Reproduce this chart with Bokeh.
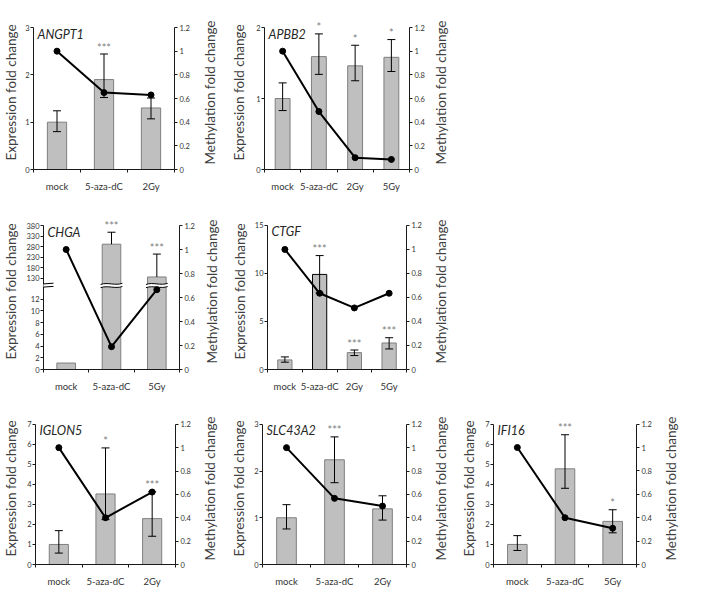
import math
from bokeh.plotting import figure
from bokeh.models import (Range1d, LinearAxis, FixedTicker, CustomJSTickFormatter,
                          Arrow, Spacer, ColumnDataSource, Label, LabelSet)
from bokeh.layouts import row, column
from bokeh.core.properties import value
from bokeh.embed import file_html
from bokeh.resources import INLINE

# ---------------- data ----------------
angpt1_groups = ["mock", "5-aza-dC", "2Gy"]
angpt1_expression = [1.00, 1.90, 1.30]
angpt1_err_upper = [1.24, 2.44, 1.51]
angpt1_err_lower = [0.80, 1.52, 1.07]
angpt1_methylation = [1.00, 0.65, 0.63]
angpt1_signif = ["", "***", ""]
angpt1_yticks = [0, 1, 2, 3]

apbb2_groups = ["mock", "5-aza-dC", "2Gy", "5Gy"]
apbb2_expression = [1.00, 1.59, 1.46, 1.58]
apbb2_err_upper = [1.22, 1.91, 1.75, 1.83]
apbb2_err_lower = [0.83, 1.34, 1.25, 1.38]
apbb2_methylation = [1.00, 0.49, 0.10, 0.085]
apbb2_signif = ["", "*", "*", "*"]
apbb2_yticks = [0, 1, 2]

chga_groups = ["mock", "5-aza-dC", "5Gy"]
chga_expression = [1.1, 291.0, 135.0]
chga_err_upper = [None, 348.0, 244.0]
chga_err_lower = [None, None, None]
chga_methylation = [1.00, 0.19, 0.665]
chga_signif = ["", "***", "***"]
chga_yticks = [0, 2, 4, 6, 8, 10, 12, 130, 180, 230, 280, 330, 380]

ctgf_groups = ["mock", "5-aza-dC", "2Gy", "5Gy"]
ctgf_expression = [1.00, 9.90, 1.76, 2.76]
ctgf_err_upper = [1.31, 11.86, 2.03, 3.31]
ctgf_err_lower = [0.76, 7.95, 1.45, 2.14]
ctgf_methylation = [1.00, 0.635, 0.513, 0.635]
ctgf_signif = ["", "***", "***", "***"]
ctgf_yticks = [0, 5, 10, 15]

iglon5_groups = ["mock", "5-aza-dC", "2Gy"]
iglon5_expression = [1.00, 3.52, 2.29]
iglon5_err_upper = [1.69, 5.82, 3.63]
iglon5_err_lower = [0.57, 2.24, 1.41]
iglon5_methylation = [1.00, 0.40, 0.62]
iglon5_signif = ["", "*", "***"]
iglon5_yticks = [0, 1, 2, 3, 4, 5, 6, 7]

slc43a2_groups = ["mock", "5-aza-dC", "2Gy"]
slc43a2_expression = [1.00, 2.24, 1.19]
slc43a2_err_upper = [1.28, 2.73, 1.47]
slc43a2_err_lower = [0.76, 1.75, 0.95]
slc43a2_methylation = [1.00, 0.566, 0.50]
slc43a2_signif = ["", "***", ""]
slc43a2_yticks = [0, 1, 2, 3]

ifi16_groups = ["mock", "5-aza-dC", "5Gy"]
ifi16_expression = [1.00, 4.77, 2.15]
ifi16_err_upper = [1.44, 6.47, 2.73]
ifi16_err_lower = [0.70, 3.80, 1.58]
ifi16_methylation = [1.00, 0.40, 0.31]
ifi16_signif = ["", "***", "*"]
ifi16_yticks = [0, 1, 2, 3, 4, 5, 6, 7]

methylation_ticks = [0, 0.2, 0.4, 0.6, 0.8, 1.0, 1.2]
left_title = "Expression fold change"
right_title = "Methylation fold change"

# ---------------- styles ----------------
FONT = "Lato"
BAR_FILL = "#BFBFBF"
BAR_EDGE = "#7F7F7F"
AXIS_COLOR = "#1a1a1a"
TICK_COLOR = "#333333"
TITLE_COLOR = "#404040"
STAR_COLOR = "#808080"
TITLE_SIZE = "13.5px"
YTICK_SIZE = "7.5px"
XTICK_SIZE = "9.5px"
BAR_WIDTH = 0.41
EXT = 12          # extra frame pixels above the top tick (room for stars / gene name)
RR = 20           # right border of a panel (right axis ticks + labels)
HALF_TITLE = 8.5  # half the height of a rotated axis title

# broken-axis scale for CHGA (lower segment linear 0..~14, upper segment 130..380 compressed)
CHGA_BREAK = 14.3
CHGA_U130 = 15.57
CHGA_K = 0.03577


def chga_scale(v):
    if v <= CHGA_BREAK:
        return v
    return CHGA_U130 + (v - 130.0) * CHGA_K


def style_axis(ax, tick_size):
    ax.axis_line_color = AXIS_COLOR
    ax.major_tick_line_color = AXIS_COLOR
    ax.minor_tick_line_color = AXIS_COLOR
    ax.major_label_text_font = FONT
    ax.major_label_text_font_size = tick_size
    ax.major_label_text_color = TICK_COLOR
    ax.axis_label_text_font = FONT
    ax.axis_label_text_font_size = TITLE_SIZE
    ax.axis_label_text_font_style = "normal"
    ax.axis_label_text_color = TITLE_COLOR


def make_panel(gene, groups, expr, hi, lo, meth, sig, yticks, col_w, row_h, bl, fw,
               axis_top, H, lstand, d_right, scale=None, edges=None, break_at=None):
    n = len(groups)
    f = scale if scale else (lambda v: v)
    xs = [i + 0.5 for i in range(n)]
    ymax = f(yticks[-1])
    grow = (H + EXT) / H
    main_w = bl + fw + RR
    bt = axis_top - EXT
    bb = row_h - axis_top - H
    p = figure(width=main_w, height=row_h, x_range=Range1d(0, n),
               y_range=Range1d(0, ymax * grow),
               x_axis_type=None, y_axis_type=None, output_backend="svg",
               toolbar_location=None, min_border_left=bl, min_border_right=RR,
               min_border_top=bt, min_border_bottom=bb)
    p.title.visible = False
    p.outline_line_color = None
    p.extra_y_ranges = {"meth": Range1d(0, 1.2 * grow)}

    # bottom (category) axis: labels at centres, tick marks at boundaries
    xa = LinearAxis(ticker=FixedTicker(ticks=xs, minor_ticks=list(range(n + 1))),
                    formatter=CustomJSTickFormatter(
                        args=dict(labels=groups),
                        code="const i = Math.round(tick - 0.5); return (i >= 0 && i < labels.length) ? labels[i] : '';"))
    style_axis(xa, XTICK_SIZE)
    xa.major_tick_out = 0
    xa.major_tick_in = 0
    xa.minor_tick_out = 3
    xa.minor_tick_in = 0
    xa.major_label_standoff = 8
    p.add_layout(xa, "below")

    # left axis
    tick_u = [f(t) for t in yticks]
    tick_l = [str(t) for t in yticks]
    ya = LinearAxis(ticker=FixedTicker(ticks=tick_u, minor_ticks=[]), bounds=(0, ymax),
                    formatter=CustomJSTickFormatter(
                        args=dict(u=tick_u, labs=tick_l),
                        code="for (let i = 0; i < u.length; i++) { if (Math.abs(u[i] - tick) < 1e-6) return labs[i]; } return '';"))
    style_axis(ya, YTICK_SIZE)
    ya.major_tick_out = 3
    ya.major_tick_in = 0
    ya.major_label_standoff = 1
    ya.axis_label = left_title
    ya.axis_label_standoff = lstand
    p.add_layout(ya, "left")

    # right axis (ticks + labels; its title is drawn by the companion figure)
    ra = LinearAxis(y_range_name="meth", bounds=(0, 1.2),
                    ticker=FixedTicker(ticks=methylation_ticks, minor_ticks=[]),
                    formatter=CustomJSTickFormatter(code="return String(Math.round(tick * 10) / 10);"))
    style_axis(ra, YTICK_SIZE)
    ra.major_tick_out = 3
    ra.major_tick_in = 0
    ra.major_label_standoff = 2
    p.add_layout(ra, "right")

    # bars
    p.vbar(x=xs, top=[f(v) for v in expr], bottom=0, width=BAR_WIDTH,
           fill_color=BAR_FILL, line_color=edges if edges else BAR_EDGE, line_width=1)

    # error bars
    ex, y0, y1, cx, cy = [], [], [], [], []
    for x, v, u, l in zip(xs, expr, hi, lo):
        if u is None:
            continue
        base = l if l is not None else v
        ex.append(x)
        y0.append(f(base))
        y1.append(f(u))
        cx.append(x)
        cy.append(f(u))
        if l is not None:
            cx.append(x)
            cy.append(f(l))
    p.segment(x0=ex, y0=y0, x1=ex, y1=y1, line_color="black", line_width=1)
    p.scatter(x=cx, y=cy, marker="dash", size=8, line_color="black", line_width=1)

    # axis break marks
    if break_at is not None:
        gap = 0.27
        for x, v in zip(xs, expr):
            if f(v) > break_at:
                l_ = x - BAR_WIDTH / 2 - 0.035
                r_ = x + BAR_WIDTH / 2 + 0.035
                p.quad(left=l_, right=r_, bottom=break_at - gap, top=break_at + gap,
                       fill_color="white", line_color=None)
                for yy in (break_at - gap, break_at + gap):
                    p.bezier(x0=l_, y0=yy - 0.1, x1=r_, y1=yy + 0.1,
                             cx0=l_ + (r_ - l_) / 3, cy0=yy + 0.35,
                             cx1=l_ + 2 * (r_ - l_) / 3, cy1=yy - 0.35,
                             line_color="black", line_width=1)
        p.add_layout(Arrow(end=None, x_start=0, y_start=break_at - gap, x_end=0,
                           y_end=break_at + gap, line_color="white", line_width=4))
        for yy in (break_at - gap, break_at + gap):
            p.add_layout(Arrow(end=None, x_start=-0.22, y_start=yy - 0.12, x_end=0.22,
                               y_end=yy + 0.12, line_color="black", line_width=1))

    # methylation line
    p.line(xs, meth, y_range_name="meth", line_color="black", line_width=2)
    p.scatter(xs, meth, y_range_name="meth", marker="circle", size=6,
              fill_color="black", line_color="black")

    # significance stars
    sx, sy, st = [], [], []
    for x, u, s in zip(xs, hi, sig):
        if s and u is not None:
            sx.append(x)
            sy.append(f(u))
            st.append(s)
    p.add_layout(LabelSet(source=ColumnDataSource(dict(x=sx, y=sy, t=st)), x="x", y="y",
                          text="t", text_align="center", text_baseline="alphabetic",
                          y_offset=2.5, text_font=value(FONT), text_font_size="11px",
                          text_color=STAR_COLOR))

    # gene name
    p.add_layout(Label(x=0, y=ymax, x_offset=4, y_offset=1, text=gene, text_font=FONT,
                       text_font_style="italic", text_font_size="12.5px",
                       text_baseline="top", text_color="#262626"))

    # companion figure carrying the right-hand title (reads bottom-to-top)
    tw = col_w - main_w
    tl = int(round(d_right - RR + HALF_TITLE))
    t = figure(width=tw, height=row_h, x_range=Range1d(0, 1), y_range=Range1d(0, 1),
               x_axis_type=None, y_axis_type=None, output_backend="svg",
               toolbar_location=None, min_border_left=tl, min_border_right=tw - tl - 1,
               min_border_top=bt, min_border_bottom=bb)
    t.title.visible = False
    t.outline_line_color = None
    ta = LinearAxis(ticker=FixedTicker(ticks=[], minor_ticks=[]))
    style_axis(ta, YTICK_SIZE)
    ta.axis_line_color = None
    ta.major_tick_out = 0
    ta.major_tick_in = 0
    ta.major_label_standoff = 0
    ta.axis_label = right_title
    ta.axis_label_standoff = 0
    t.add_layout(ta, "left")
    return p, t


p1, t1 = make_panel("ANGPT1", angpt1_groups, angpt1_expression, angpt1_err_upper,
                    angpt1_err_lower, angpt1_methylation, angpt1_signif, angpt1_yticks,
                    228, 200, 28, 146, 27, 142, lstand=3, d_right=34.7)
p2, t2 = make_panel("APBB2", apbb2_groups, apbb2_expression, apbb2_err_upper,
                    apbb2_err_lower, apbb2_methylation, apbb2_signif, apbb2_yticks,
                    230, 200, 35, 146, 27, 142, lstand=6, d_right=30)
p3, t3 = make_panel("CHGA", chga_groups, chga_expression, chga_err_upper, chga_err_lower,
                    chga_methylation, chga_signif, chga_yticks,
                    228, 198, 38, 141, 25, 144, lstand=4, d_right=31,
                    scale=chga_scale, break_at=CHGA_BREAK)
p4, t4 = make_panel("CTGF", ctgf_groups, ctgf_expression, ctgf_err_upper, ctgf_err_lower,
                    ctgf_methylation, ctgf_signif, ctgf_yticks,
                    230, 198, 37, 141, 24, 145, lstand=4, d_right=33.7,
                    edges=[BAR_EDGE, "#000000", BAR_EDGE, BAR_EDGE])
p5, t5 = make_panel("IGLON5", iglon5_groups, iglon5_expression, iglon5_err_upper,
                    iglon5_err_lower, iglon5_methylation, iglon5_signif, iglon5_yticks,
                    228, 194, 30, 145, 26, 143, lstand=5, d_right=33.7)
p6, t6 = make_panel("SLC43A2", slc43a2_groups, slc43a2_expression, slc43a2_err_upper,
                    slc43a2_err_lower, slc43a2_methylation, slc43a2_signif, slc43a2_yticks,
                    230, 194, 33, 145, 26, 143, lstand=4, d_right=34)
p7, t7 = make_panel("IFI16", ifi16_groups, ifi16_expression, ifi16_err_upper,
                    ifi16_err_lower, ifi16_methylation, ifi16_signif, ifi16_yticks,
                    227, 194, 33, 145, 21, 145, lstand=5, d_right=34)

layout = column(
    row(p1, t1, p2, t2, Spacer(width=227, height=200)),
    row(p3, t3, p4, t4, Spacer(width=227, height=198)),
    row(p5, t5, p6, t6, p7, t7),
)

open("out.html", "w").write(file_html(layout, INLINE))
